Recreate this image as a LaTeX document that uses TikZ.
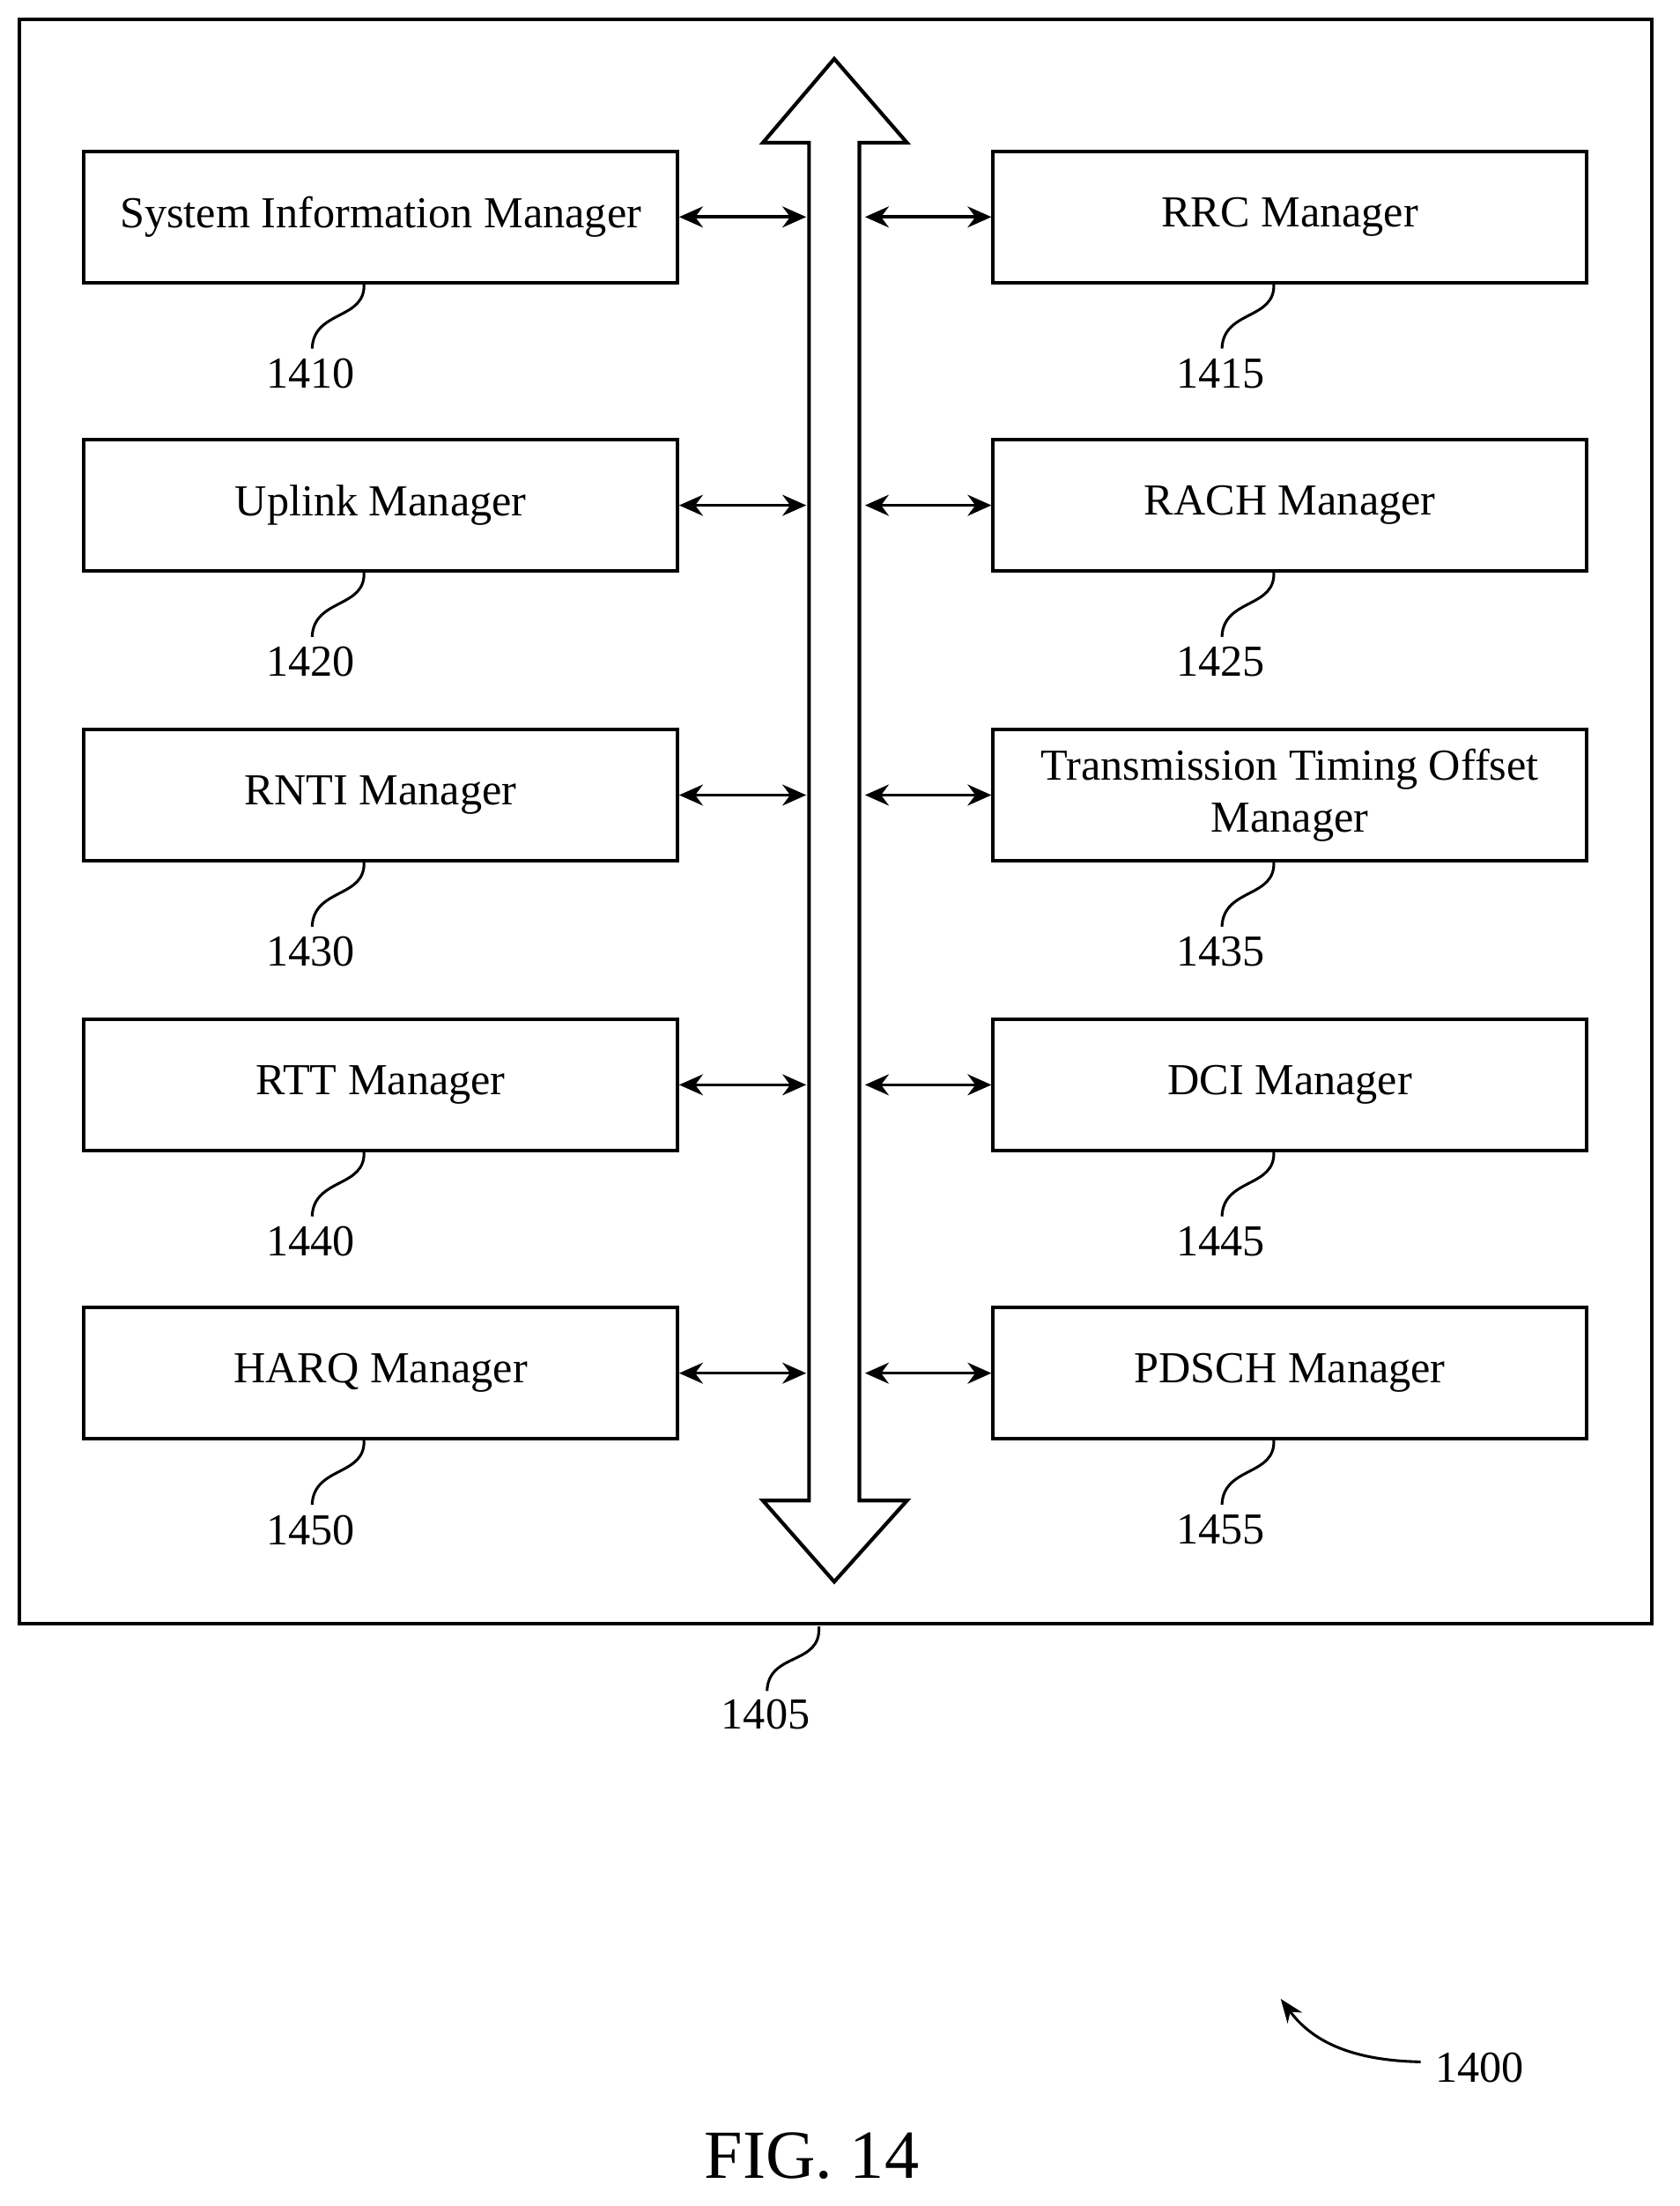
\documentclass[tikz,border=0pt]{standalone}
\usepackage{fontspec}
\setmainfont{Liberation Serif}
\usetikzlibrary{arrows.meta}
\begin{document}
\begin{tikzpicture}[x=0.02cm,y=-0.02cm,
  box/.style={draw,line width=1.4pt,minimum width=8.48cm,minimum height=1.88cm,align=center,font=\fontsize{18}{21}\selectfont,inner sep=2pt},
  lbl/.style={font=\fontsize{18}{21}\selectfont},
  conn/.style={line width=1.3pt,{Stealth[length=0.34cm,width=0.3cm]}-{Stealth[length=0.34cm,width=0.3cm]}},
  sq/.style={line width=1.1pt}]
\useasboundingbox (0,0) rectangle (1200,1576);
\draw[line width=1.5pt] (14,14) rectangle (1180,1160);
% bus
\draw[line width=1.5pt,fill=white] (596,42) -- (648,102) -- (614,102) -- (614,1072) -- (648,1072) -- (596,1130) -- (545,1072) -- (578,1072) -- (578,102) -- (545,102) -- cycle;
\foreach \n/\y/\lt/\rt/\ln/\rn in {1/155/System Information Manager/RRC Manager/1410/1415,
  2/361/Uplink Manager/RACH Manager/1420/1425,
  3/568/RNTI Manager/{Transmission Timing Offset\\Manager}/1430/1435,
  4/775/RTT Manager/DCI Manager/1440/1445,
  5/981/HARQ Manager/PDSCH Manager/1450/1455}{
  \node[box] (L\n) at (272,\y) {\lt};
  \node[box] (R\n) at (921.5,\y) {\rt};
  \coordinate (BL\n) at (576,\y);
  \coordinate (BR\n) at (618,\y);
  \draw[conn] (L\n.east) -- (BL\n);
  \draw[conn] (BR\n) -- (R\n.west);
  \node[lbl] (LN\n) at (222,\y+112) {\ln};
  \node[lbl] (RN\n) at (872,\y+112) {\rn};
  \draw[sq] (260,\y+47) .. controls (262,\y+74) and (224,\y+66) .. (223,\y+94);
  \draw[sq] (910,\y+47) .. controls (912,\y+74) and (874,\y+66) .. (873,\y+94);
}
\node[lbl] (n1405) at (547,1225) {1405};
\draw[sq] (585,1162) .. controls (587,1190) and (549,1180) .. (548,1208);
\node[lbl] (n1400) at (1057,1477) {1400};
\coordinate (a1400) at (915,1428);
\draw[sq,-{Stealth[length=0.34cm,width=0.26cm]}] (1015,1473) .. controls (960,1472) and (935,1455) .. (a1400);
\node[font=\fontsize{28}{33}\selectfont] (fig) at (580,1540) {FIG. 14};
\end{tikzpicture}
\end{document}
